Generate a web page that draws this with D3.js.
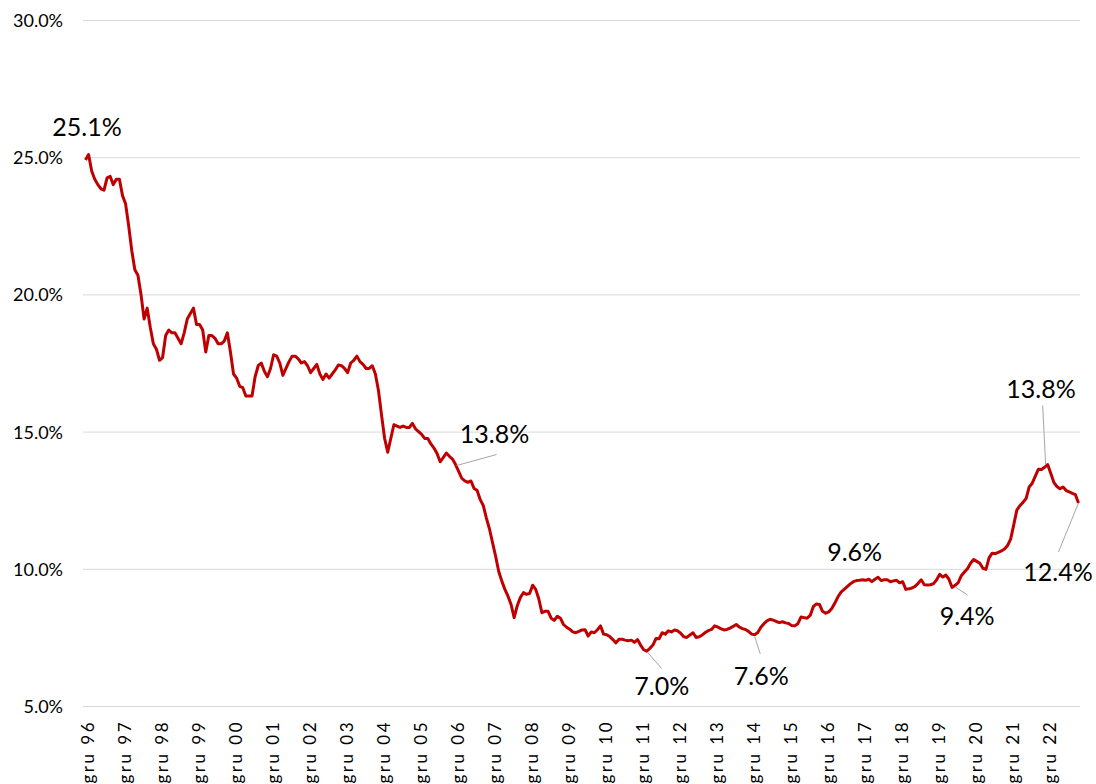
<!DOCTYPE html>
<html>
<head>
<meta charset="utf-8">
<script src="https://cdn.jsdelivr.net/npm/d3@7"></script>
<style>
  body { margin: 0; background: #fff; }
  svg { display: block; }
  text { font-family: Lato, "Noto Sans", sans-serif; fill: #000; }
</style>
</head>
<body>
<svg id="chart" width="1096" height="784"></svg>
<script>
// Monthly rate (%), December 1996 through October 2023
const rates = [
  24.9, 25.1, 24.5, 24.2, 24.0, 23.85, 23.8, 24.25, 24.3, 24.0, 24.2, 24.2,
  23.6, 23.3, 22.5, 21.6, 20.9, 20.7, 20.0, 19.1, 19.5, 18.8, 18.2, 18.0,
  17.6, 17.7, 18.5, 18.7, 18.6, 18.6, 18.4, 18.2, 18.6, 19.1, 19.3, 19.5,
  18.9, 18.9, 18.7, 17.9, 18.5, 18.5, 18.4, 18.2, 18.2, 18.3, 18.6, 17.9,
  17.1, 16.95, 16.65, 16.6, 16.3, 16.3, 16.3, 17.0, 17.4, 17.5, 17.2, 17.0,
  17.3, 17.8, 17.75, 17.5, 17.05, 17.3, 17.55, 17.75, 17.75, 17.65, 17.5, 17.55,
  17.4, 17.15, 17.3, 17.45, 17.1, 16.9, 17.1, 16.95, 17.1, 17.25, 17.43, 17.4,
  17.3, 17.15, 17.5, 17.6, 17.75, 17.55, 17.45, 17.3, 17.3, 17.4, 17.1, 16.5,
  15.6, 14.75, 14.25, 14.75, 15.25, 15.2, 15.15, 15.2, 15.15, 15.15, 15.3, 15.1,
  15.0, 14.9, 14.75, 14.75, 14.55, 14.4, 14.2, 13.9, 14.05, 14.22, 14.1, 14.0,
  13.8, 13.55, 13.3, 13.2, 13.15, 13.2, 12.93, 12.85, 12.52, 12.3, 11.85, 11.45,
  10.95, 10.45, 9.9, 9.55, 9.25, 9.0, 8.7, 8.22, 8.65, 8.95, 9.13, 9.07,
  9.1, 9.4, 9.25, 8.9, 8.4, 8.45, 8.45, 8.2, 8.12, 8.27, 8.2, 7.97,
  7.87, 7.8, 7.7, 7.67, 7.72, 7.77, 7.78, 7.55, 7.7, 7.67, 7.78, 7.92,
  7.62, 7.6, 7.53, 7.42, 7.3, 7.43, 7.43, 7.4, 7.38, 7.4, 7.32, 7.42,
  7.22, 7.05, 7.0, 7.1, 7.22, 7.46, 7.45, 7.67, 7.62, 7.74, 7.7, 7.77,
  7.74, 7.65, 7.52, 7.5, 7.59, 7.67, 7.5, 7.52, 7.59, 7.68, 7.75, 7.79,
  7.92, 7.88, 7.82, 7.77, 7.79, 7.84, 7.9, 7.97, 7.88, 7.82, 7.79, 7.72,
  7.62, 7.6, 7.68, 7.87, 8.0, 8.1, 8.16, 8.13, 8.08, 8.04, 8.07, 8.03,
  8.01, 7.93, 7.92, 8.0, 8.24, 8.22, 8.2, 8.3, 8.62, 8.72, 8.7, 8.45,
  8.38, 8.43, 8.55, 8.75, 8.98, 9.15, 9.25, 9.35, 9.45, 9.53, 9.57, 9.58,
  9.6, 9.58, 9.62, 9.53, 9.62, 9.69, 9.57, 9.6, 9.6, 9.53, 9.56, 9.58,
  9.49, 9.53, 9.25, 9.27, 9.3, 9.36, 9.47, 9.6, 9.42, 9.41, 9.42, 9.46,
  9.6, 9.8, 9.7, 9.77, 9.62, 9.32, 9.4, 9.5, 9.75, 9.88, 10.0, 10.2,
  10.34, 10.27, 10.2, 10.02, 9.98, 10.4, 10.57, 10.55, 10.6, 10.65, 10.72, 10.85,
  11.08, 11.6, 12.14, 12.3, 12.42, 12.56, 12.98, 13.12, 13.38, 13.63, 13.62, 13.7,
  13.8, 13.48, 13.15, 13.0, 12.92, 12.98, 12.85, 12.8, 12.75, 12.7, 12.4
];

// Category labels, one per December
const xTickLabels = [
  "gru 96", "gru 97", "gru 98", "gru 99", "gru 00", "gru 01", "gru 02",
  "gru 03", "gru 04", "gru 05", "gru 06", "gru 07", "gru 08", "gru 09",
  "gru 10", "gru 11", "gru 12", "gru 13", "gru 14", "gru 15", "gru 16",
  "gru 17", "gru 18", "gru 19", "gru 20", "gru 21", "gru 22"
];

const yTicks = [5, 10, 15, 20, 25, 30];

// Months that carry a value label
const labelledMonths = [1, 120, 182, 217, 252, 282, 312, 322];

// Label placement relative to its point: text centre/baseline and optional leader end
const labelLayout = [
  { tx: -1.6, ty: -18.5, leader: null },
  { tx: 39, ty: -21.5, leader: [1, 1, 41, -10] },
  { tx: 15, ty: 44, leader: [1, 1.5, 15, 17.5] },
  { tx: 6.6, ty: 50, leader: [0, 2, 5.6, 19.3] },
  { tx: -8, ty: -19, leader: null },
  { tx: 12, ty: 40, leader: [0, 1.5, 12.3, 9.7] },
  { tx: -6.6, ty: -66.5, leader: [-2, 0, -5, -59] },
  { tx: -20.5, ty: 78, leader: [0, 0, -20, 49] }
];

const svg = d3.select("#chart");
const plotLeft = 83, plotRight = 1080, plotTop = 20, plotBottom = 706;

const x = d3.scalePoint()
  .domain(d3.range(rates.length))
  .range([85.5, 1078.5]);

const y = d3.scaleLinear()
  .domain([5, 30])
  .range([plotBottom, plotTop]);

const pct = d3.format(".1f");

// Horizontal gridlines with percentage labels
const yAxis = svg.append("g")
  .attr("transform", `translate(${plotLeft},0)`)
  .call(d3.axisLeft(y)
    .tickValues(yTicks)
    .tickSize(-(plotRight - plotLeft))
    .tickPadding(20)
    .tickFormat(d => pct(d) + "%"));
yAxis.select(".domain").remove();
yAxis.selectAll(".tick line").attr("stroke", "#d9d9d9").attr("stroke-width", 1);
yAxis.selectAll(".tick text")
  .style("font-size", "18px")
  .style("fill", "#000")
  .attr("dy", "0.36em");

// Category axis, rotated labels every twelve months
const xAxis = svg.append("g")
  .attr("transform", `translate(0,${plotBottom})`)
  .call(d3.axisBottom(x)
    .tickValues(d3.range(0, rates.length, 12))
    .tickSize(0)
    .tickFormat((d, i) => xTickLabels[i]));
xAxis.select(".domain").remove();
xAxis.selectAll(".tick text")
  .style("font-size", "17px")
  .style("letter-spacing", "2.5px")
  .style("fill", "#000")
  .attr("transform", "rotate(-90)")
  .attr("text-anchor", "end")
  .attr("x", -14)
  .attr("y", 0)
  .attr("dy", "0.47em");

// Series line
const line = d3.line()
  .x((d, i) => x(i))
  .y(d => y(d));

svg.append("path")
  .datum(rates)
  .attr("fill", "none")
  .attr("stroke", "#C00000")
  .attr("stroke-width", 3)
  .attr("stroke-linejoin", "round")
  .attr("d", line);

// Value labels with leader lines
const notes = svg.append("g");
labelledMonths.forEach((m, k) => {
  const px = x(m), py = y(rates[m]);
  const lay = labelLayout[k];
  if (lay.leader) {
    const [x1, y1, x2, y2] = lay.leader;
    notes.append("line")
      .attr("x1", px + x1).attr("y1", py + y1)
      .attr("x2", px + x2).attr("y2", py + y2)
      .attr("stroke", "#a6a6a6")
      .attr("stroke-width", 1);
  }
  notes.append("text")
    .attr("x", px + lay.tx)
    .attr("y", py + lay.ty)
    .attr("text-anchor", "middle")
    .style("font-size", "25px")
    .text(pct(rates[m]) + "%");
});
</script>
</body>
</html>
